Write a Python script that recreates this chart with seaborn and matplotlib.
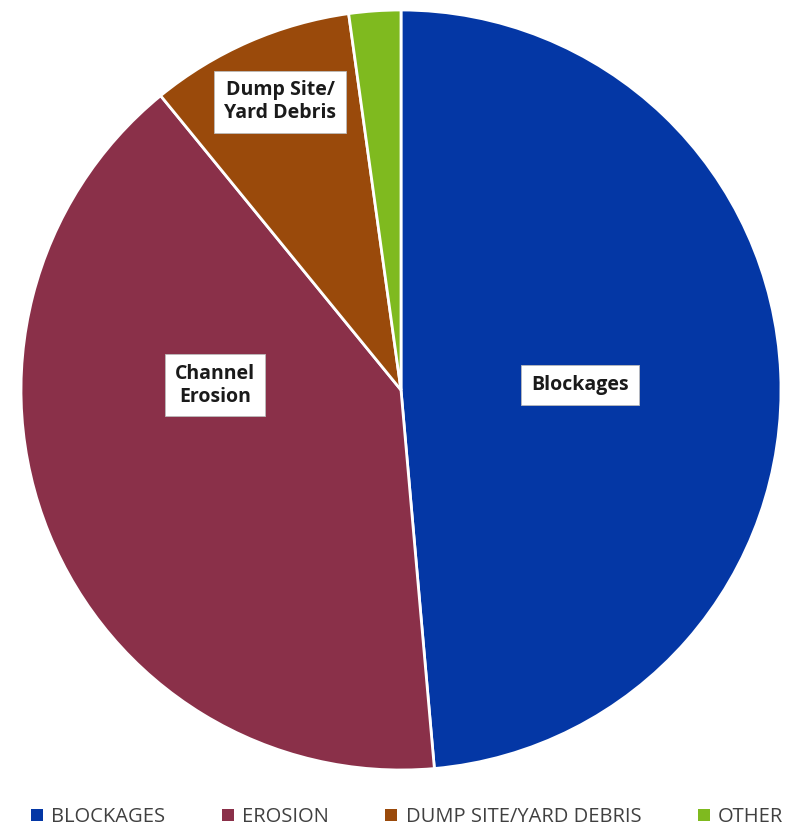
import matplotlib
matplotlib.use("Agg")
import matplotlib.pyplot as plt
import seaborn as sns
from matplotlib.patches import Patch

categories = ["BLOCKAGES", "EROSION", "DUMP SITE/YARD DEBRIS", "OTHER"]
slice_labels = ["Blockages", "Channel\nErosion", "Dump Site/\nYard Debris", ""]
values = [48.6, 40.5, 8.7, 2.2]
colors = ["#0437A5", "#8A3049", "#9A4A0B", "#7FBA1F"]

sns.set_theme(style="white")
plt.rcParams['font.family'] = ['Open Sans', 'DejaVu Sans']

fig = plt.figure(figsize=(7.86, 8.30), dpi=100)
ax = fig.add_axes([21/786, 60/830, 760/786, 760/830])
pal = sns.color_palette(colors)
wedges, _ = ax.pie(values, colors=pal, startangle=90, counterclock=False,
                   radius=1.0, wedgeprops=dict(edgecolor="white", linewidth=2))
ax.set_xlim(-1.0, 1.0)
ax.set_ylim(-1.0, 1.0)
ax.set_aspect("equal")
ax.axis("off")

label_pos = [(0.471, 0.013), (-0.49, 0.013), (-0.318, 0.758)]
for (x, y), t in zip(label_pos, slice_labels[:3]):
    ax.text(x, y, t, ha="center", va="center", fontsize=14, fontweight="bold",
            color="#1a1a1a", linespacing=1.2,
            bbox=dict(boxstyle="square,pad=0.5", facecolor="white", edgecolor="#bbbbbb", linewidth=0.6))

handles = [Patch(facecolor=c, edgecolor="none") for c in colors]
fig.legend(handles, categories, loc="center", bbox_to_anchor=(0.518, 1 - 817/830), ncol=4,
           frameon=False, handlelength=0.6, handleheight=0.6, handletextpad=0.4,
           columnspacing=2.8, prop={'family': ['Open Sans', 'DejaVu Sans'], 'size': 14.5})
for t in fig.legends[0].get_texts():
    t.set_color("#404040")

fig.savefig("out.png", dpi=100)
